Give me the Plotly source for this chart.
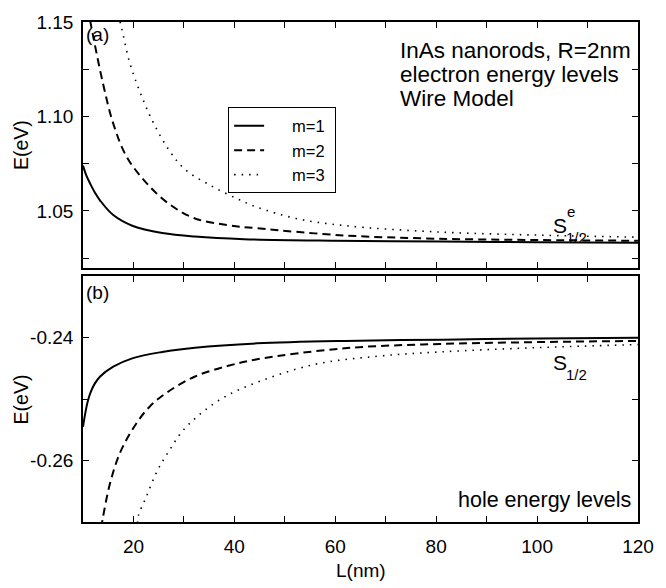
import plotly.graph_objects as go
from plotly.subplots import make_subplots

# ---------------- data ----------------
# (a) electron energy levels
L_e1 = [10, 10.7, 11.5, 12.4, 13.4, 16.0, 19.9, 25.7, 32.2, 41.9, 60, 81, 100, 120]
E_e1 = [1.0740, 1.0685, 1.0640, 1.0595, 1.0555, 1.0478, 1.0420, 1.0383, 1.0364, 1.0350, 1.0342, 1.0338, 1.0334, 1.0332]

L_e2 = [11.4, 12.1, 14.0, 16.0, 18.6, 22.5, 27.0, 32.2, 38.6, 44.5, 61.9, 80, 100, 120]
E_e2 = [1.1510, 1.1413, 1.1170, 1.0962, 1.0789, 1.0650, 1.0538, 1.0460, 1.0425, 1.0408, 1.0370, 1.0353, 1.0346, 1.0342]

L_e3 = [17.0, 17.6, 19.2, 21.2, 23.7, 27.0, 30.2, 35.4, 40.6, 44.5, 52.2, 61.9, 80, 100, 120]
E_e3 = [1.1540, 1.1474, 1.1290, 1.1136, 1.0980, 1.0824, 1.0720, 1.0633, 1.0564, 1.0520, 1.0460, 1.0422, 1.0389, 1.0372, 1.0361]

# (b) hole energy levels
L_h1 = [10, 10.4, 10.9, 11.5, 12.3, 13.4, 16.0, 19.9, 25.7, 32.2, 44.5, 62, 81.4, 100, 120]
E_h1 = [-0.2545, -0.2525, -0.2505, -0.2489, -0.2475, -0.2463, -0.2447, -0.2433, -0.2423, -0.2416, -0.2409, -0.2405, -0.2403, -0.2401, -0.2400]

L_h2 = [13.6, 13.9, 15.3, 17.3, 19.9, 23.1, 27.0, 32.2, 38.6, 44.5, 61.9, 80.7, 100, 120]
E_h2 = [-0.2710, -0.2695, -0.2639, -0.2588, -0.2548, -0.2513, -0.2487, -0.2463, -0.2446, -0.2435, -0.2417, -0.2410, -0.2407, -0.2405]

L_h3 = [20.8, 21.0, 22.5, 24.7, 27.0, 29.6, 32.8, 37.3, 42.5, 55.5, 68.4, 80.7, 100, 120]
E_h3 = [-0.2702, -0.2689, -0.2660, -0.2617, -0.2585, -0.2553, -0.2527, -0.2500, -0.2479, -0.2444, -0.2430, -0.2423, -0.2416, -0.2411]

series_names = ["m=1", "m=2", "m=3"]

x_ticks = [10, 20, 30, 40, 50, 60, 70, 80, 90, 100, 110, 120]
x_labels = ["", "20", "", "40", "", "60", "", "80", "", "100", "", "120"]
ya_ticks = [1.025, 1.05, 1.075, 1.10, 1.125, 1.15]
ya_labels = ["", "1.05", "", "1.10", "", "1.15"]
yb_ticks = [-0.27, -0.26, -0.25, -0.24, -0.23]
yb_labels = ["", "-0.26", "", "-0.24", ""]

# ---------------- figure ----------------
W, H = 666, 588
ML, MR, MT, MB = 83, 17, 13, 66
PW = W - ML - MR
PH = H - MT - MB

def px(x):
    return (x - ML) / PW

def py(y):
    return (H - MB - y) / PH

fig = make_subplots(rows=2, cols=1, shared_xaxes=False, vertical_spacing=0.0)

styles = [dict(dash="solid", width=2.0),
          dict(dash="8px,5px", width=2.0),
          dict(dash="1.5px,6px", width=1.6)]

NB = "\u00a0"
for (L, E, nm, st) in zip([L_e1, L_e2, L_e3], [E_e1, E_e2, E_e3], series_names, styles):
    fig.add_trace(go.Scatter(x=L, y=E, mode="lines", name=NB * 5 + nm + NB, line_shape="spline",
                             line=dict(color="black", **st), showlegend=True), row=1, col=1)
for (L, E, nm, st) in zip([L_h1, L_h2, L_h3], [E_h1, E_h2, E_h3], series_names, styles):
    fig.add_trace(go.Scatter(x=L, y=E, mode="lines", name=nm, line_shape="spline",
                             line=dict(color="black", **st), showlegend=False), row=2, col=1)

FONT = "Liberation Sans, Arial, sans-serif"
axis_common = dict(showline=True, linecolor="black", linewidth=1.6, mirror="allticks",
                   ticks="inside", ticklen=6, tickwidth=1.3, tickcolor="black",
                   showgrid=False, zeroline=False,
                   tickfont=dict(family=FONT, size=19, color="black"))

fig.update_xaxes(range=[10, 120], tickvals=x_ticks, ticktext=["" for _ in x_ticks],
                 domain=[0, 1], **axis_common, row=1, col=1)
fig.update_xaxes(range=[10, 120], tickvals=x_ticks, ticktext=x_labels,
                 domain=[0, 1], ticklabelstandoff=6, **axis_common, row=2, col=1)
fig.update_yaxes(range=[1.02, 1.15], tickvals=ya_ticks, ticktext=ya_labels,
                 domain=[py(263), 1], ticklabelstandoff=4, **axis_common, row=1, col=1)
fig.update_yaxes(range=[-0.27, -0.23], tickvals=yb_ticks, ticktext=yb_labels,
                 domain=[0, py(272)], ticklabelstandoff=4, **axis_common, row=2, col=1)

ann = []
def add_text(text, x, y, size=19, xanchor="left", yanchor="middle", angle=0):
    ann.append(dict(text=text, x=px(x), y=py(y), xref="paper", yref="paper",
                    xanchor=xanchor, yanchor=yanchor, showarrow=False, textangle=angle,
                    borderpad=0,
                    font=dict(family=FONT, size=size, color="black")))

add_text("(a)", 85, 26)
add_text("(b)", 85, 288)
add_text("InAs nanorods, R=2nm", 405, 42, size=22.5)
add_text("electron energy levels", 405, 66.5, size=22.5)
add_text("Wire Model", 405, 91, size=22.5)
add_text("S", 561, 220, size=21)
add_text("e", 576, 206, size=15)
add_text("1/2", 575, 232, size=15)
add_text("S", 561, 360, size=21)
add_text("1/2", 575, 372, size=15)
add_text("hole energy levels", 643, 500, size=21.5, xanchor="right")
add_text("E(eV)", 20, 138, size=19.5, xanchor="center", angle=-90)
add_text("E(eV)", 20, 397, size=19.5, xanchor="center", angle=-90)
add_text("L(nm)", 366, 571, size=19, xanchor="center")

fig.update_layout(
    width=W, height=H,
    margin=dict(l=ML, r=MR, t=MT, b=MB),
    paper_bgcolor="white", plot_bgcolor="white",
    annotations=ann,
    legend=dict(x=px(231), y=py(100), xanchor="left", yanchor="top",
                bgcolor="white", bordercolor="black", borderwidth=1,
                font=dict(family=FONT, size=16.5, color="black"),
                tracegroupgap=0, itemwidth=30),
)

fig.write_html("out.html")
